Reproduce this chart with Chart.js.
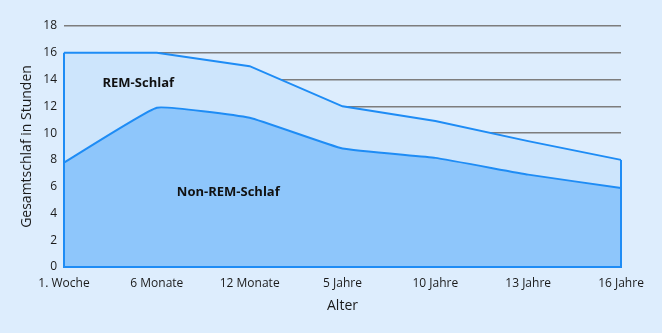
<!DOCTYPE html>
<html>
<head>
<meta charset="utf-8">
<script src="https://cdn.jsdelivr.net/npm/chart.js@4"></script>
<style>
  html, body { margin: 0; padding: 0; background: #ddedfd; }
  #wrap { width: 662px; height: 333px; position: relative; }
</style>
</head>
<body>
<div id="wrap"><canvas id="schlafChart"></canvas></div>
<script>
// Daten: Schlafdauer nach Alter
const alter = ['1. Woche', '6 Monate', '12 Monate', '5 Jahre', '10 Jahre', '13 Jahre', '16 Jahre'];
const gesamtSchlaf = [16, 16, 15, 12, 10.9, 9.4, 8];
const nonRemSchlaf = [7.8, 11.9, 11.15, 8.85, 8.15, 6.9, 5.9];

const linienFarbe = '#1e8cf5';

// Umriss der Flaeche (links, rechts, unten) nachzeichnen
const umrissPlugin = {
    id: 'umriss',
    afterDatasetsDraw(chart) {
        const { ctx, scales } = chart;
        const pts = chart.getDatasetMeta(0).data;
        const y0 = scales.y.getPixelForValue(0);
        const first = pts[0], last = pts[pts.length - 1];
        ctx.save();
        ctx.strokeStyle = linienFarbe;
        ctx.lineWidth = 2;
        ctx.beginPath();
        ctx.moveTo(first.x, first.y);
        ctx.lineTo(first.x, y0);
        ctx.lineTo(last.x, y0);
        ctx.lineTo(last.x, last.y);
        ctx.stroke();

        // Beschriftungen in den Flaechen
        ctx.fillStyle = '#111';
        ctx.font = 'bold 13px "Open Sans", sans-serif';
        ctx.textAlign = 'center';
        ctx.textBaseline = 'middle';
        ctx.fillText('REM-Schlaf', scales.x.getPixelForValue(0.8), scales.y.getPixelForValue(13.75));
        ctx.fillText('Non-REM-Schlaf', scales.x.getPixelForValue(1.77), scales.y.getPixelForValue(5.55));
        ctx.restore();
    }
};

const ctx = document.getElementById('schlafChart').getContext('2d');
new Chart(ctx, {
    type: 'line',
    data: {
        labels: alter,
        datasets: [
            {
                label: 'Gesamtschlaf',
                data: gesamtSchlaf,
                borderColor: linienFarbe,
                borderWidth: 2,
                backgroundColor: '#cde5fc',
                fill: 'origin',
                pointRadius: 0,
                tension: 0,
                order: 2
            },
            {
                label: 'Non-REM-Schlaf',
                data: nonRemSchlaf,
                borderColor: linienFarbe,
                borderWidth: 2,
                backgroundColor: '#8ec6fb',
                fill: 'origin',
                pointRadius: 0,
                tension: 0.1,
                order: 1
            }
        ]
    },
    options: {
        responsive: true,
        maintainAspectRatio: false,
        animation: false,
        layout: { padding: { left: 0, right: 41, top: 26, bottom: 0 } },
        plugins: {
            legend: { display: false },
            tooltip: { enabled: false }
        },
        scales: {
            x: {
                offset: false,
                grid: { display: false, drawTicks: false },
                border: { display: false },
                ticks: {
                    color: '#1a1a1a',
                    font: { family: '"Open Sans", sans-serif', size: 12 },
                    padding: 9,
                    maxRotation: 0
                },
                title: {
                    display: true,
                    text: 'Alter',
                    color: '#1a1a1a',
                    font: { family: '"Open Sans", sans-serif', size: 14 },
                    padding: { top: 6, bottom: 19 }
                },
                afterFit: scale => { scale.height = 66; }
            },
            y: {
                min: 0,
                max: 18,
                grid: {
                    color: '#7d7d7d',
                    lineWidth: 1.5,
                    drawTicks: false
                },
                border: { display: false },
                ticks: {
                    stepSize: 2,
                    color: '#1a1a1a',
                    font: { family: '"Open Sans", sans-serif', size: 12 },
                    padding: 7
                },
                title: {
                    display: true,
                    text: 'Gesamtschlaf in Stunden',
                    color: '#1a1a1a',
                    font: { family: '"Open Sans", sans-serif', size: 14 },
                    padding: { top: 19, bottom: 4 }
                },
                afterFit: scale => { scale.width = 64; }
            }
        }
    },
    plugins: [umrissPlugin]
});
</script>
</body>
</html>
